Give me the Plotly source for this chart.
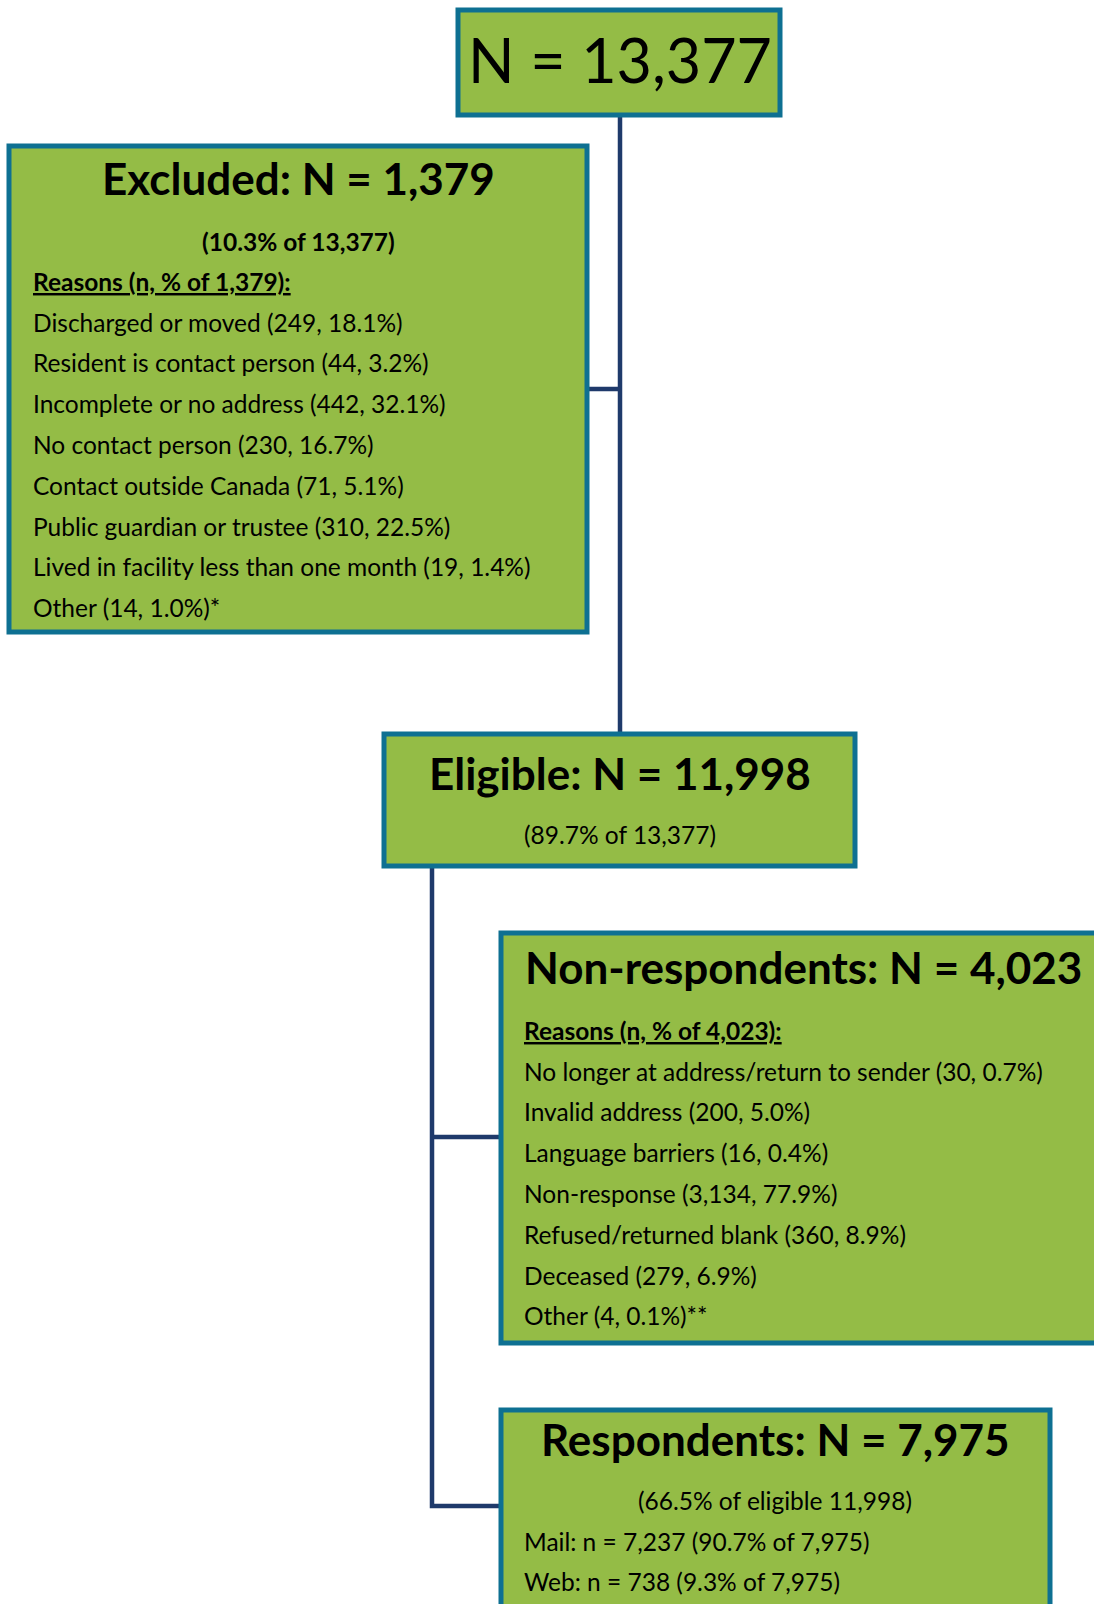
import plotly.graph_objects as go

# ---- data -------------------------------------------------------------
total_n = "13,377"

excluded_n = "1,379"
excluded_share = "10.3% of 13,377"
excluded_reasons = [
    "Discharged or moved",
    "Resident is contact person",
    "Incomplete or no address",
    "No contact person",
    "Contact outside Canada",
    "Public guardian or trustee",
    "Lived in facility less than one month",
    "Other",
]
excluded_counts = ["249", "44", "442", "230", "71", "310", "19", "14"]
excluded_pcts = ["18.1%", "3.2%", "32.1%", "16.7%", "5.1%", "22.5%", "1.4%", "1.0%"]
excluded_marks = ["", "", "", "", "", "", "", "*"]

eligible_n = "11,998"
eligible_share = "89.7% of 13,377"

nonresp_n = "4,023"
nonresp_reasons = [
    "No longer at address/return to sender",
    "Invalid address",
    "Language barriers",
    "Non-response",
    "Refused/returned blank",
    "Deceased",
    "Other",
]
nonresp_counts = ["30", "200", "16", "3,134", "360", "279", "4"]
nonresp_pcts = ["0.7%", "5.0%", "0.4%", "77.9%", "8.9%", "6.9%", "0.1%"]
nonresp_marks = ["", "", "", "", "", "", "**"]

resp_n = "7,975"
resp_share = "66.5% of eligible 11,998"
resp_modes = ["Mail", "Web"]
resp_counts = ["7,237", "738"]
resp_pcts = ["90.7%", "9.3%"]

# ---- styling ----------------------------------------------------------
W, H = 1094, 1604
FILL = "#94BC46"
BORDER = "#0E7092"
LINK = "#1F3A6B"
FONT = "Lato"
TITLE = 44
SMALL = 24.5

fig = go.Figure()


def box(x0, y0, x1, y1):
    fig.add_shape(type="rect", x0=x0, y0=y0, x1=x1, y1=y1,
                  fillcolor=FILL, line=dict(color=BORDER, width=5), layer="above")


def link(xs, ys):
    path = "M " + " L ".join(f"{x},{y}" for x, y in zip(xs, ys))
    fig.add_shape(type="path", path=path, line=dict(color=LINK, width=4.5), layer="below")


def text(x, y, s, size, bold=False, anchor="center"):
    if bold:
        s = f"<b>{s}</b>"
    fig.add_annotation(x=x, y=y, text=s, showarrow=False, xanchor=anchor, yanchor="middle",
                       font=dict(family=FONT, size=size, color="black"))


# connectors
link([620, 620], [115, 734])
link([587, 620], [389, 389])
link([432, 432, 501], [867, 1506, 1506])
link([432, 501], [1137, 1137])

# boxes
box(458, 10, 780, 115)
box(9, 146, 587, 632)
box(384, 734, 855, 866)
box(501, 933, 1110, 1343)
box(501, 1410, 1050, 1640)

# top
text(620, 59, f"N = {total_n}", 61)

# excluded
text(298, 178, f"Excluded: N = {excluded_n}", TITLE, bold=True)
text(298, 241, f"({excluded_share})", SMALL, bold=True)
text(31, 281, f"<u>Reasons (n, % of {excluded_n}):</u>", SMALL, bold=True, anchor="left")
for i, (r, c, p, m) in enumerate(zip(excluded_reasons, excluded_counts, excluded_pcts, excluded_marks)):
    text(31, 322 + i * 40.8, f"{r} ({c}, {p}){m}", SMALL, anchor="left")

# eligible
text(620, 773, f"Eligible: N = {eligible_n}", TITLE, bold=True)
text(620, 834, f"({eligible_share})", SMALL)

# non-respondents
text(523, 967, f"Non-respondents: N = {nonresp_n}", TITLE, bold=True, anchor="left")
text(522, 1030, f"<u>Reasons (n, % of {nonresp_n}):</u>", SMALL, bold=True, anchor="left")
for i, (r, c, p, m) in enumerate(zip(nonresp_reasons, nonresp_counts, nonresp_pcts, nonresp_marks)):
    text(522, 1071 + i * 40.8, f"{r} ({c}, {p}){m}", SMALL, anchor="left")

# respondents
text(775, 1439, f"Respondents: N = {resp_n}", TITLE, bold=True)
text(775, 1500, f"({resp_share})", SMALL)
for i, (md, c, p) in enumerate(zip(resp_modes, resp_counts, resp_pcts)):
    text(522, 1541 + i * 40, f"{md}: n = {c} ({p} of {resp_n})", SMALL, anchor="left")

fig.update_layout(
    width=W, height=H,
    margin=dict(l=0, r=0, t=0, b=0),
    paper_bgcolor="white", plot_bgcolor="white",
    xaxis=dict(range=[0, W], visible=False, fixedrange=True),
    yaxis=dict(range=[H, 0], visible=False, fixedrange=True),
    showlegend=False,
)

fig.write_html("out.html", config={"displayModeBar": False},
               post_script="document.body.style.margin='0';")
